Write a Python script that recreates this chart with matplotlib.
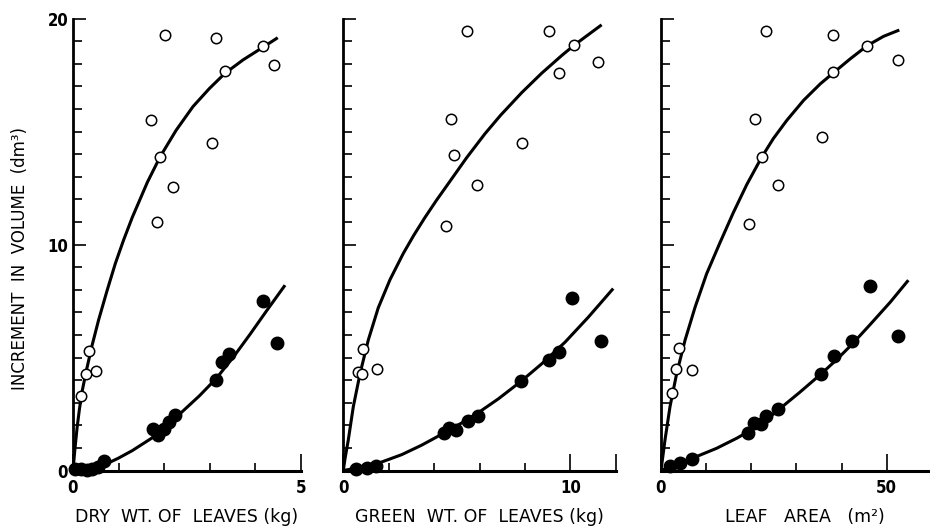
import matplotlib
matplotlib.use("Agg")
import matplotlib.pyplot as plt

# ---------------- data ----------------
# Panel 1: dry weight of leaves (kg)
dry_open_x = [0.18, 0.28, 0.35, 0.50, 1.71, 1.85, 1.91, 2.01, 2.19, 3.04, 3.14, 3.33, 4.16, 4.40]
dry_open_y = [3.28, 4.29, 5.29, 4.40, 15.49, 11.00, 13.88, 19.29, 12.54, 14.51, 19.14, 17.69, 18.77, 17.96]
dry_fill_x = [0.05, 0.17, 0.30, 0.42, 0.55, 0.68, 1.75, 1.87, 2.00, 2.11, 2.24, 3.14, 3.27, 3.42, 4.17, 4.47]
dry_fill_y = [0.05, 0.05, 0.02, 0.05, 0.15, 0.40, 1.85, 1.55, 1.85, 2.14, 2.44, 4.02, 4.80, 5.17, 7.51, 5.65]
dry_curve_open_x = [0.0, 0.04, 0.09, 0.14, 0.20, 0.28, 0.41, 0.56, 0.75, 0.93, 1.11, 1.30, 1.63, 1.91,
                    2.26, 2.63, 2.99, 3.33, 3.73, 4.16, 4.49]
dry_curve_open_y = [0.0, 0.9, 1.9, 2.7, 3.5, 4.3, 5.47, 6.65, 7.98, 9.17, 10.2, 11.2, 12.75, 13.88,
                    15.05, 16.1, 16.9, 17.57, 18.17, 18.72, 19.15]
dry_curve_fill_x = [0.0, 0.3, 0.5, 0.71, 1.0, 1.30, 1.74, 2.26, 2.77, 3.14, 3.51, 3.88, 4.25, 4.65]
dry_curve_fill_y = [0.0, 0.03, 0.10, 0.27, 0.55, 0.88, 1.45, 2.35, 3.30, 4.07, 5.00, 6.02, 7.08, 8.20]

# Panel 2: green weight of leaves (kg)
green_open_x = [0.63, 0.84, 0.88, 1.47, 4.52, 4.76, 4.89, 5.45, 5.90, 7.89, 9.07, 9.49, 10.18, 11.23]
green_open_y = [4.34, 4.27, 5.37, 4.49, 10.81, 15.54, 13.96, 19.46, 12.64, 14.48, 19.46, 17.58, 18.82, 18.06]
green_fill_x = [0.55, 1.03, 1.43, 4.44, 4.66, 4.96, 5.51, 5.95, 7.81, 9.07, 9.52, 10.06, 11.34]
green_fill_y = [0.05, 0.12, 0.22, 1.65, 1.90, 1.79, 2.19, 2.43, 3.98, 4.91, 5.25, 7.64, 5.72]
green_curve_open_x = [0.0, 0.08, 0.22, 0.44, 0.74, 1.10, 1.54, 2.06, 2.64, 3.10, 3.60, 4.10, 4.63, 5.44,
                      6.24, 6.93, 7.86, 8.74, 9.62, 10.21, 11.38]
green_curve_open_y = [0.0, 0.55, 1.35, 2.82, 4.30, 5.77, 7.20, 8.45, 9.60, 10.40, 11.20, 11.95, 12.70, 13.85,
                      14.90, 15.72, 16.72, 17.58, 18.36, 18.85, 19.72]
green_curve_fill_x = [0.0, 0.66, 1.43, 2.57, 3.45, 4.33, 5.21, 5.95, 6.83, 7.81, 8.74, 9.77, 10.79, 11.89]
green_curve_fill_y = [0.0, 0.12, 0.28, 0.70, 1.12, 1.60, 2.10, 2.56, 3.17, 3.93, 4.72, 5.68, 6.78, 8.05]

# Panel 3: leaf area (m2)
area_open_x = [2.37, 3.26, 4.06, 6.81, 19.5, 20.8, 22.3, 23.3, 25.9, 35.6, 38.2, 38.2, 45.7, 52.4]
area_open_y = [3.42, 4.48, 5.42, 4.44, 10.89, 15.57, 13.86, 19.43, 12.62, 14.77, 19.27, 17.63, 18.80, 18.18]
area_fill_x = [2.0, 4.2, 6.8, 19.2, 20.6, 22.1, 23.2, 26.0, 35.4, 38.4, 42.3, 46.3, 52.6]
area_fill_y = [0.19, 0.31, 0.53, 1.66, 2.10, 2.05, 2.43, 2.71, 4.26, 5.05, 5.73, 8.15, 5.93]
area_curve_open_x = [0.0, 0.89, 2.0, 3.47, 5.32, 7.54, 10.1, 13.0, 16.0, 19.0, 22.3, 24.9, 27.9,
                     31.6, 35.3, 38.4, 41.9, 45.7, 49.3, 52.8]
area_curve_open_y = [0.0, 1.36, 2.83, 4.29, 5.76, 7.22, 8.70, 10.05, 11.40, 12.65, 13.86, 14.69, 15.50,
                     16.38, 17.11, 17.63, 18.21, 18.80, 19.21, 19.49]
area_curve_fill_x = [0.0, 2.0, 6.8, 12.3, 16.8, 22.0, 26.0, 30.8, 35.4, 39.0, 42.3, 46.3, 50.8, 54.8]
area_curve_fill_y = [0.0, 0.15, 0.53, 0.98, 1.43, 2.02, 2.68, 3.47, 4.26, 4.92, 5.58, 6.45, 7.45, 8.42]

# axis texts / ticks
y_label = "INCREMENT  IN  VOLUME  (dm³)"
x_labels = ["DRY  WT. OF  LEAVES (kg)", "GREEN  WT. OF  LEAVES (kg)", "LEAF   AREA   (m²)"]
x_major = [[0, 5], [0, 10, 12], [0, 50]]
x_major_labels = [["0", "5"], ["0", "10", ""], ["0", "50"]]
x_minor = [[1, 2, 3, 4], [2, 4, 6, 8], [10, 20, 30, 40]]
x_max = [5, 12, 59.6]
y_major = [0, 10, 20]
y_minor = list(range(1, 20))

# ---------------- drawing ----------------
fig = plt.figure(figsize=(9.3, 5.26), dpi=100)
W, H = 930.0, 526.0
y_bottom_px, y_top_px = 470.5, 18.5
rects_px = [(73, 228), (343.3, 272.4), (661, 269)]
label_cx = [0.5, 0.5, 0.535]

panels = [
    (dry_open_x, dry_open_y, dry_fill_x, dry_fill_y,
     dry_curve_open_x, dry_curve_open_y, dry_curve_fill_x, dry_curve_fill_y),
    (green_open_x, green_open_y, green_fill_x, green_fill_y,
     green_curve_open_x, green_curve_open_y, green_curve_fill_x, green_curve_fill_y),
    (area_open_x, area_open_y, area_fill_x, area_fill_y,
     area_curve_open_x, area_curve_open_y, area_curve_fill_x, area_curve_fill_y),
]

for i, (ox, oy, fx, fy, cox, coy, cfx, cfy) in enumerate(panels):
    left_px, width_px = rects_px[i]
    ax = fig.add_axes([left_px / W, (H - y_bottom_px) / H, width_px / W,
                       (y_bottom_px - y_top_px) / H])
    ax.set_xlim(0, x_max[i])
    ax.set_ylim(0, 20)
    for cx, cy in ((cox, coy), (cfx, cfy)):
        ax.plot(cx, cy, color="black", lw=2.2, solid_capstyle="butt",
                solid_joinstyle="round", zorder=2)
    ax.plot(ox, oy, "o", ms=7.5, mfc="white", mec="black", mew=1.1, ls="none",
            zorder=3, clip_on=False)
    ax.plot(fx, fy, "o", ms=9.0, mfc="black", mec="black", ls="none",
            zorder=3, clip_on=False)

    for s in ("top", "right"):
        ax.spines[s].set_visible(False)
    ax.spines["left"].set_linewidth(2.0)
    ax.spines["bottom"].set_linewidth(2.2)

    ax.set_xticks(x_major[i])
    ax.set_xticklabels(x_major_labels[i])
    ax.set_xticks(x_minor[i], minor=True)
    ax.set_yticks(y_major)
    ax.set_yticks(y_minor, minor=True)
    if i == 0:
        ax.set_yticklabels(["0", "10", "20"])
    else:
        ax.set_yticklabels(["", "", ""])

    ax.tick_params(axis="x", which="major", direction="in", length=12, width=1.2,
                   pad=6, labelsize=12)
    ax.tick_params(axis="x", which="minor", direction="in", length=6, width=1.2)
    ax.tick_params(axis="y", which="major", direction="in", length=9.5, width=1.2,
                   pad=3.5, labelsize=12)
    ax.tick_params(axis="y", which="minor", direction="in", length=6.5, width=1.2)
    for lab in ax.get_xticklabels() + ax.get_yticklabels():
        lab.set_fontweight("bold")
        lab.set_fontfamily("DejaVu Sans")
        lab.set_fontstretch("condensed")

    ax.set_xlabel(x_labels[i], fontsize=12.5, family="DejaVu Sans")
    ax.xaxis.set_label_coords(label_cx[i], -0.082)
    if i == 0:
        ax.set_ylabel(y_label, fontsize=12, family="DejaVu Sans")
        ax.yaxis.set_label_coords(-0.195, 0.468)

fig.savefig("out.png", dpi=100, facecolor="white")
